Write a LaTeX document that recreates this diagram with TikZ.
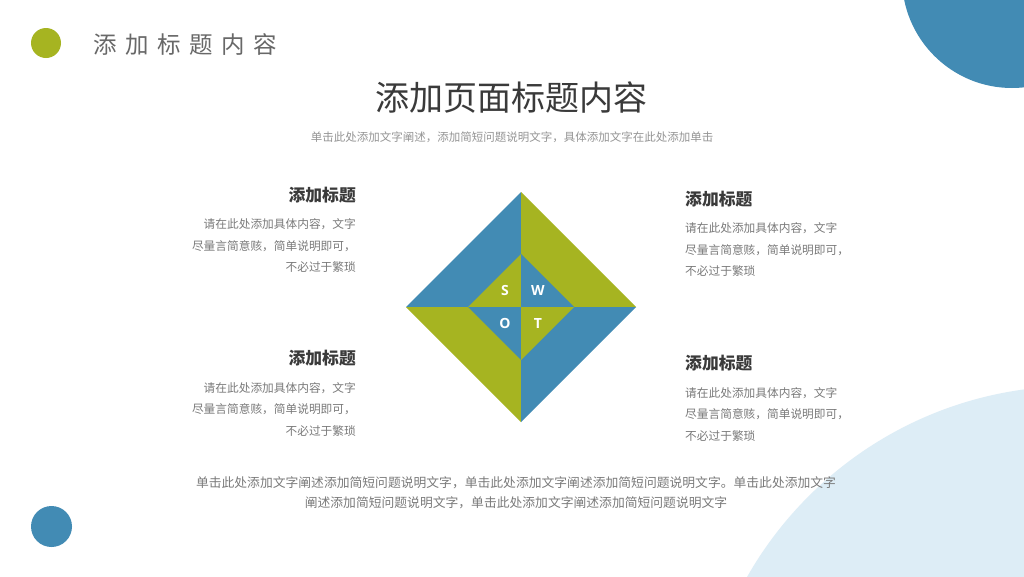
\documentclass[tikz,border=0pt]{standalone}
\usepackage{fontspec}
\setmainfont{Noto Sans CJK SC}
\newfontfamily\swotfont{Open Sans}
\definecolor{swotblue}{HTML}{428BB4}
\definecolor{swotgreen}{HTML}{A6B421}
\definecolor{palesky}{HTML}{DDEDF6}
\definecolor{inkgray}{HTML}{3A3A3A}
\definecolor{textgray}{HTML}{7A7A7A}
\tikzset{
    headnode/.style = {
        inner sep=0pt,
        font=\bfseries\fontsize{16.8}{20}\selectfont,
        text=inkgray
    },
    bodynode/.style = {
        inner sep=0pt,
        font=\fontsize{11.7}{21.5}\selectfont,
        text=textgray
    },
    letternode/.style = {
        inner sep=0pt,
        font=\swotfont\bfseries\fontsize{14}{16}\selectfont,
        text=white
    }
}

\begin{document}
\begin{tikzpicture}[x=1pt, y=-1pt]
    \clip (0,0) rectangle (1024,576);
    \fill[white] (0,0) rectangle (1024,576);
    \fill[palesky] (1075,763) circle (377);
    \fill[swotblue] (1012,-22) circle (110);
    \fill[swotgreen] (46,43) circle (15);
    \fill[swotblue] (51.5,526.5) circle (20.5);

    \node [anchor=west, inner sep=0pt, text=textgray!85!black, font=\fontsize{23.5}{26}\selectfont] (pagetag) at (93,45)
        {添\kern8.5pt 加\kern8.5pt 标\kern8.5pt 题\kern8.5pt 内\kern8.5pt 容};
    \node [inner sep=0pt, text=inkgray, font=\fontsize{34}{40}\selectfont] (maintitle) at (511,98) {添加页面标题内容};
    \node [inner sep=0pt, text=textgray!80, font=\fontsize{11.5}{14}\selectfont] (subtitle) at (512,137)
        {单击此处添加文字阐述，添加简短问题说明文字，具体添加文字在此处添加单击};

    \coordinate (mid) at (521,307);
    \coordinate (otop) at (521,192);
    \coordinate (oleft) at (406,307);
    \coordinate (oright) at (636,307);
    \coordinate (obottom) at (521,422);
    \coordinate (itop) at (521,254);
    \coordinate (ileft) at (468,307);
    \coordinate (iright) at (574,307);
    \coordinate (ibottom) at (521,360);
    \fill[swotblue] (mid) -- (otop) -- (oleft) -- cycle;
    \fill[swotgreen] (mid) -- (otop) -- (oright) -- cycle;
    \fill[swotgreen] (mid) -- (obottom) -- (oleft) -- cycle;
    \fill[swotblue] (mid) -- (obottom) -- (oright) -- cycle;
    \fill[swotgreen] (mid) -- (itop) -- (ileft) -- cycle;
    \fill[swotblue] (mid) -- (itop) -- (iright) -- cycle;
    \fill[swotblue] (mid) -- (ibottom) -- (ileft) -- cycle;
    \fill[swotgreen] (mid) -- (ibottom) -- (iright) -- cycle;
    \node [letternode] (sletter) at (505,290) {S};
    \node [letternode] (wletter) at (538,290) {W};
    \node [letternode] (oletter) at (505,323) {O};
    \node [letternode] (tletter) at (538,323) {T};

    \node [headnode, anchor=east] (lthead) at (356,195) {添加标题};
    \node [bodynode, anchor=east, align=right] (ltbody) at (356,246)
        {请在此处添加具体内容，文字\\尽量言简意赅，简单说明即可，\\不必过于繁琐};
    \node [headnode, anchor=east] (lbhead) at (356,358) {添加标题};
    \node [bodynode, anchor=east, align=right] (lbbody) at (356,409)
        {请在此处添加具体内容，文字\\尽量言简意赅，简单说明即可，\\不必过于繁琐};
    \node [headnode, anchor=west] (rthead) at (685,199) {添加标题};
    \node [bodynode, anchor=west, align=left] (rtbody) at (685,250)
        {请在此处添加具体内容，文字\\尽量言简意赅，简单说明即可，\\不必过于繁琐};
    \node [headnode, anchor=west] (rbhead) at (685,363) {添加标题};
    \node [bodynode, anchor=west, align=left] (rbbody) at (685,414)
        {请在此处添加具体内容，文字\\尽量言简意赅，简单说明即可，\\不必过于繁琐};

    \node [bodynode, align=center, font=\fontsize{12.8}{20}\selectfont] (footnote) at (516,493)
        {单击此处添加文字阐述添加简短问题说明文字，单击此处添加文字阐述添加简短问题说明文字。单击此处添加文字\\
         阐述添加简短问题说明文字，单击此处添加文字阐述添加简短问题说明文字};
\end{tikzpicture}
\end{document}
